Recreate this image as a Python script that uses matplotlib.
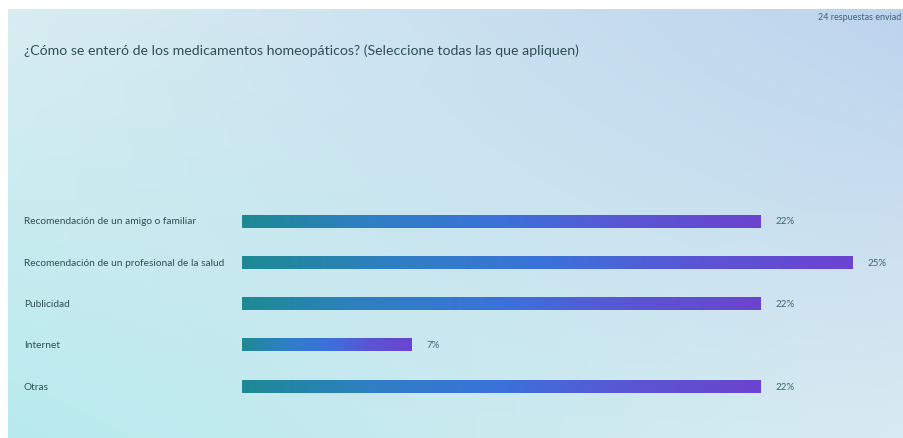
import matplotlib.pyplot as plt
import numpy as np
from matplotlib.colors import LinearSegmentedColormap

plt.rcParams['font.family'] = ['Lato', 'DejaVu Sans']

title = '¿Cómo se enteró de los medicamentos homeopáticos? (Seleccione todas las que apliquen)'
note = '24 respuestas enviad'
categories = ['Recomendación de un amigo o familiar',
              'Recomendación de un profesional de la salud',
              'Publicidad',
              'Internet',
              'Otras']
values = [22.0, 25.9, 22.0, 7.2, 22.0]
labels = ['22%', '25%', '22%', '7%', '22%']

W, H = 904, 439
fig = plt.figure(figsize=(W / 100, H / 100), dpi=100, facecolor='white')

# background panel with soft gradient
bg = fig.add_axes([8 / W, 0, 1 - 8 / W, 1 - 10 / H])
bg.set_axis_off()
tl = np.array([0.85, 0.93, 0.95])
tr = np.array([0.74, 0.83, 0.93])
bl = np.array([0.72, 0.92, 0.93])
br = np.array([0.85, 0.92, 0.95])
u = np.linspace(0, 1, 200)[None, :, None]
v = np.linspace(0, 1, 100)[:, None, None]
grad = (1 - v) * ((1 - u) * tl + u * tr) + v * ((1 - u) * bl + u * br)
bg.imshow(grad, aspect='auto', extent=[0, 1, 0, 1], interpolation='bicubic')
bg.set_xlim(0, 1)
bg.set_ylim(0, 1)

fig.text(24 / W, 1 - 51 / H, title, fontsize=10.2, color='#2f4f55', va='center', ha='left')
fig.text(818 / W, 1 - 17 / H, note, fontsize=6.5, color='#3d6670', va='center', ha='left')

# data axes
px_per_unit = (853 - 242) / values[1]
row = 41.3
top_px = 222 - row / 2
ax = fig.add_axes([242 / W, 1 - (top_px + 5 * row) / H, (W - 242) / W, 5 * row / H])
ax.set_xlim(0, (W - 242) / px_per_unit)
ax.set_ylim(4.5, -0.5)
ax.set_axis_off()
ax.patch.set_alpha(0)

cmap = LinearSegmentedColormap.from_list('bar', ['#1d8a94', '#2f7fc4', '#3b72da', '#5a55d4', '#6b44cf'])
ypos = np.arange(len(categories))
bars = ax.barh(ypos, values, height=13 / row, color='none', edgecolor='none')
for b, val, lab, cat, y in zip(bars, values, labels, categories, ypos):
    im = ax.imshow(np.linspace(0, 1, 256)[None, :], cmap=cmap, aspect='auto',
                   extent=[0, val, y + 6.5 / row, y - 6.5 / row], interpolation='bilinear')
    im.set_clip_path(b)
    ax.text(val + 15 / px_per_unit, y, lab, fontsize=7, color='#3d6670', va='center', ha='left')
    fig.text(24 / W, 1 - (222 + row * y) / H, cat, fontsize=7.3, color='#2f4f55', va='center', ha='left')

ax.set_xlim(0, (W - 242) / px_per_unit)
ax.set_ylim(4.5, -0.5)

fig.savefig('out.png', dpi=100, facecolor='white')
